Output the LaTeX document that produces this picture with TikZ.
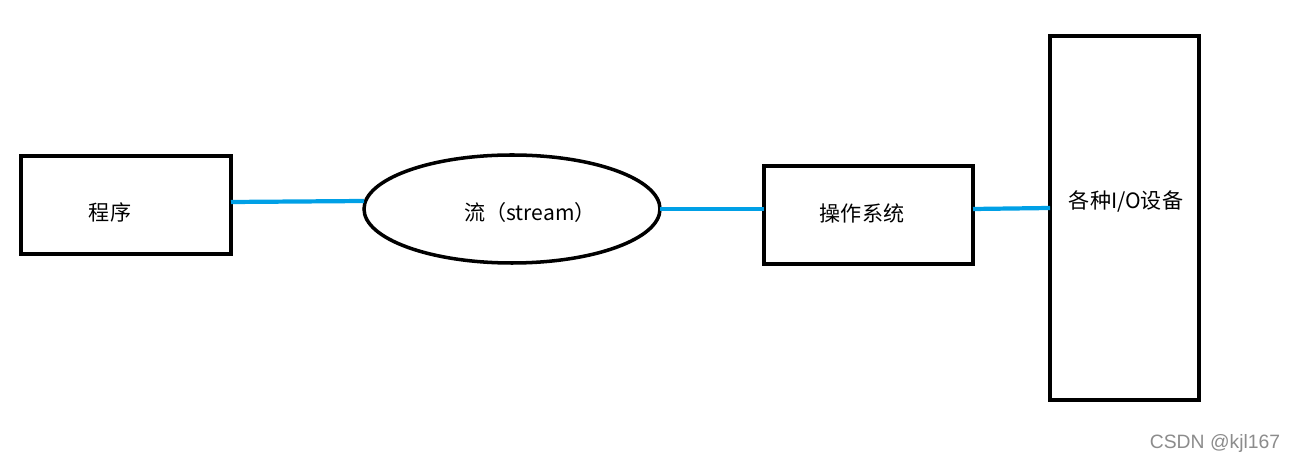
\documentclass[tikz,border=0pt]{standalone}
\usepackage{fontspec}
\newfontfamily\cjk{Noto Sans CJK SC}
\setsansfont{Liberation Sans}
\definecolor{lnk}{RGB}{0,160,230}
\begin{document}
\begin{tikzpicture}[x=0.02cm,y=-0.02cm,
  box/.style={draw=black,line width=2pt},
  conn/.style={draw=lnk,line width=2.4pt},
  lbl/.style={font=\cjk\fontsize{12}{14}\selectfont}]
\useasboundingbox[fill=white] (0,0) rectangle (1293,465);
\draw[box] (21,156) rectangle (231,254);
\node[lbl] (p) at (110,212) {程序};
\coordinate (pr) at (231,202);
\draw[box] (512,209) ellipse [x radius=148,y radius=54];
\coordinate (el) at (364,201);
\coordinate (er) at (660,209);
\node[lbl] (s) at (530,212) {流（stream）};
\draw[box] (764,166) rectangle (973,264);
\coordinate (ol) at (764,209);
\coordinate (or) at (973,209);
\node[lbl] (o) at (862,213) {操作系统};
\draw[box] (1050,36) rectangle (1199,400);
\coordinate (dl) at (1050,208);
\node[lbl] (d) at (1126,201) {各种I/O设备};
\draw[conn] (pr) -- (el);
\draw[conn] (er) -- (ol);
\draw[conn] (or) -- (dl);
\node[font=\sffamily\fontsize{11}{13}\selectfont,text=black!45] (w) at (1215,444) {CSDN @kjl167};
\end{tikzpicture}
\end{document}
